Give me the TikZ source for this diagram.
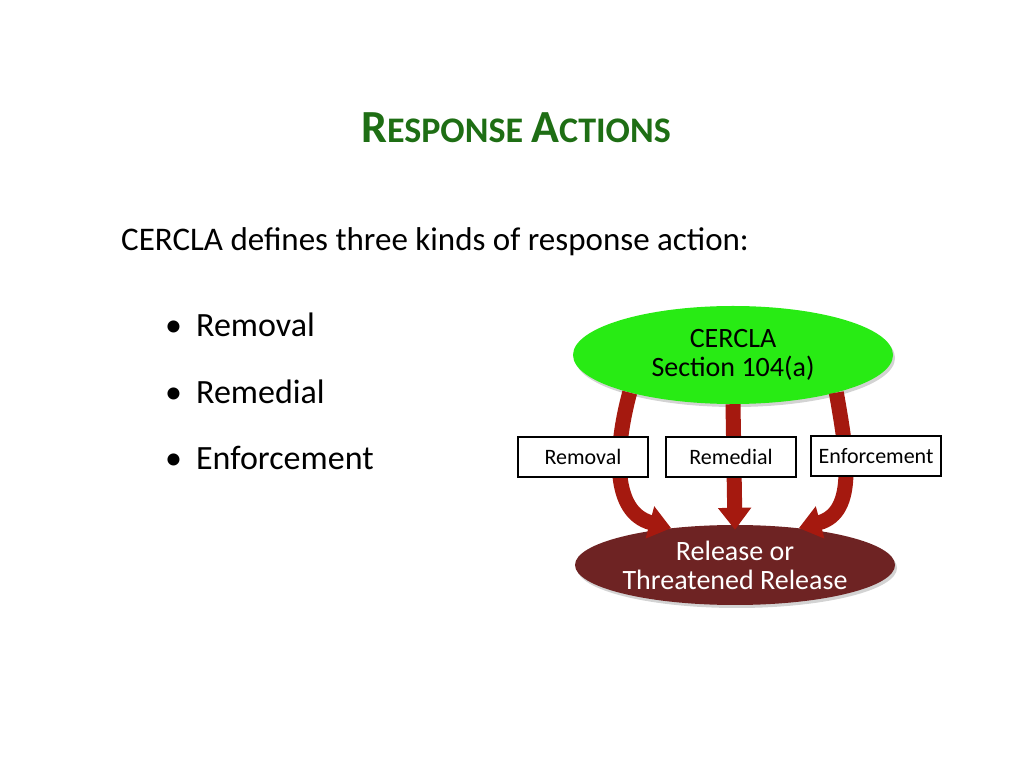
\documentclass[tikz,border=0pt]{standalone}
\usepackage{fontspec}
\setmainfont{Carlito}
\usetikzlibrary{arrows.meta,shadows,shapes.geometric}
\definecolor{TitleGreen}{RGB}{30,110,20}
\definecolor{SecGreen}{RGB}{40,235,20}
\definecolor{RelRed}{RGB}{110,35,35}
\definecolor{ArrRed}{RGB}{165,25,15}

\begin{document}
\begin{tikzpicture}[x=1pt,y=1pt,
	   every node/.style={inner sep=0pt},
	   bigoval/.style 2 args = {ellipse, minimum width=320pt, minimum height=#1,
	                           fill=#2, drop shadow={opacity=.35,shadow xshift=2pt,shadow yshift=-3pt},
	                           align=center, font=\fontsize{28}{29}\selectfont},
	   actionbox/.style = {rectangle, draw=black, line width=2pt, fill=white,
	                       minimum width=130pt, minimum height=40pt, font=\fontsize{22}{22}\selectfont},
	   flow/.style = {draw=ArrRed, line width=15pt,
	                  -{Triangle[width=32pt,length=22pt]}},
	   bullet/.style = {anchor=west, font=\fontsize{34}{34}\selectfont}]
	\useasboundingbox (0,0) rectangle (1024,768);
	%% Text
	\node (title) at (516,640) {\textcolor{TitleGreen}{\bfseries\fontsize{46}{46}\selectfont R\fontsize{36}{36}\selectfont ESPONSE \fontsize{46}{46}\selectfont A\fontsize{36}{36}\selectfont CTIONS}};
	\node [anchor=west, font=\fontsize{33}{34}\selectfont] (intro) at (121,526) {CERCLA defines three kinds of response action:};
	\node [bullet] (b1) at (165,443) {\textbullet\hspace{14pt}Removal};
	\node [bullet] (b2) at (165,376) {\textbullet\hspace{14pt}Remedial};
	\node [bullet] (b3) at (165,310) {\textbullet\hspace{14pt}Enforcement};

	%% Ovals
	\node [bigoval={98pt}{SecGreen}] (cercla) at (733,413) {CERCLA\\Section 104(a)};
	\node [bigoval={80pt}{RelRed}, text=white] (release) at (735,203) {Release or\\Threatened Release};

	%% Arrows
	\draw [flow] (cercla.200) to[out=-105,in=165,looseness=1.1] (release.150);
	\draw [flow] (cercla.south) -- ([yshift=-5pt]release.north);
	\draw [flow] (cercla.-20) to[out=-80,in=15,looseness=1.1] (release.30);

	%% Boxes
	\node [actionbox] (removal) at (583,311) {Removal};
	\node [actionbox] (remedial) at (731,311) {Remedial};
	\node [actionbox] (enforce) at (876,312) {Enforcement};
\end{tikzpicture}
\end{document}
